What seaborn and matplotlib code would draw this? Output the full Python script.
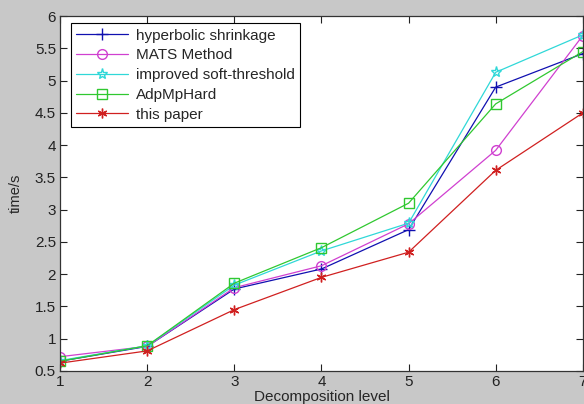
import numpy as np
import pandas as pd
import matplotlib
matplotlib.use("Agg")
import matplotlib.pyplot as plt
import seaborn as sns

# Datos
niveles = [1, 2, 3, 4, 5, 6, 7]
hyperbolic = [0.65, 0.88, 1.77, 2.08, 2.69, 4.90, 5.42]
mats = [0.72, 0.88, 1.79, 2.13, 2.78, 3.92, 5.70]
improved = [0.66, 0.89, 1.83, 2.36, 2.79, 5.13, 5.71]
adpmphard = [0.65, 0.89, 1.86, 2.41, 3.10, 4.64, 5.45]
this_paper = [0.62, 0.81, 1.45, 1.95, 2.34, 3.61, 4.50]

nombres = ["hyperbolic shrinkage", "MATS Method", "improved soft-threshold",
           "AdpMpHard", "this paper"]
series = [hyperbolic, mats, improved, adpmphard, this_paper]
colores = ["#1010b0", "#d040d0", "#30d8d8", "#30c830", "#d02020"]
marcadores = ["+", "o", "*", "s", (6, 2, 0)]
tamanos = [8, 7, 8, 7, 7]

sns.set_style("ticks")
plt.rcParams["font.family"] = ["Liberation Sans", "DejaVu Sans"]

fig = plt.figure(figsize=(5.84, 4.04), dpi=100)
fig.patch.set_facecolor("#c8c8c8")
ax = fig.add_axes([0.103, 0.082, 0.895, 0.878])
ax.set_facecolor("white")

for nombre, vals, col, mk, ms in zip(nombres, series, colores, marcadores, tamanos):
    df = pd.DataFrame({"nivel": niveles, "tiempo": vals})
    sns.lineplot(data=df, x="nivel", y="tiempo", ax=ax, color=col, marker=mk,
                 markersize=ms, markerfacecolor="none", markeredgecolor=col,
                 markeredgewidth=1.0, linewidth=0.9, label=nombre)

ax.set_xlim(1, 7)
ax.set_ylim(0.5, 6)
ax.set_xticks(niveles)
ax.set_yticks(np.arange(0.5, 6.01, 0.5))
ax.set_yticklabels([f"{v:g}" for v in np.arange(0.5, 6.01, 0.5)])
ax.tick_params(direction="in", top=True, right=True, length=5, width=0.8,
               labelsize=11, colors="#222222", pad=3)
for s in ax.spines.values():
    s.set_color("#333333")
    s.set_linewidth(0.9)

ax.set_xlabel("Decomposition level", fontsize=11, labelpad=1)
ax.set_ylabel("time/s", fontsize=10.5, labelpad=9)

leg = ax.legend(loc="upper left", bbox_to_anchor=(0.021, 0.98), fontsize=11,
                frameon=True, fancybox=False, edgecolor="black", framealpha=1,
                handlelength=3.4, borderpad=0.35, labelspacing=0.38,
                handletextpad=0.5, borderaxespad=0.0)
leg.get_frame().set_linewidth(0.8)

fig.savefig("out.png", dpi=100, facecolor=fig.get_facecolor())
